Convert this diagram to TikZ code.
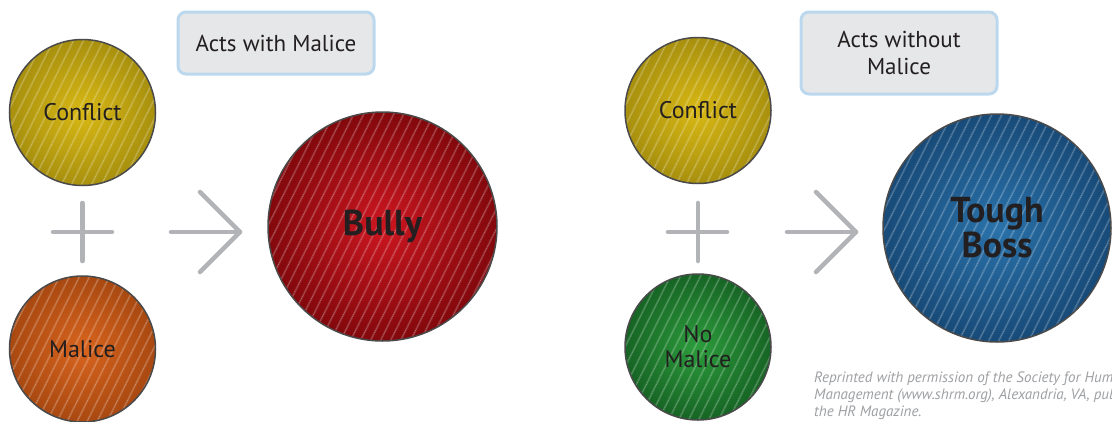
\documentclass[tikz,border=0pt]{standalone}
\usepackage{fontspec}
\setmainfont{PT Sans}
\usetikzlibrary{calc}
\definecolor{ballborder}{HTML}{4A4A4A}
\definecolor{txtdark}{HTML}{231F20}
\definecolor{yelin}{HTML}{D8B814}
\definecolor{yelout}{HTML}{A8900E}
\definecolor{orain}{HTML}{D8641E}
\definecolor{oraout}{HTML}{A84810}
\definecolor{redin}{HTML}{CC1620}
\definecolor{redout}{HTML}{82080C}
\definecolor{grnin}{HTML}{2C9C3C}
\definecolor{grnout}{HTML}{166424}
\definecolor{bluin}{HTML}{2A72AA}
\definecolor{bluout}{HTML}{174A78}
\definecolor{symgray}{HTML}{B1B3B6}
\definecolor{boxfill}{HTML}{E6E7E8}
\definecolor{boxline}{HTML}{BCD8EE}
\definecolor{notegray}{HTML}{9D9FA2}
\tikzset{
  x=1pt, y=-1pt,
  ball/.style={circle, draw=ballborder, line width=1.5pt, inner sep=0pt,
    minimum size=#1, text=txtdark, align=center,
    font=\fontsize{24}{25}\selectfont,
    path picture={
      \begin{scope}[shift={(path picture bounding box.center)}]
        \foreach \k in {-16,...,16}{
          \draw[white, opacity=0.14, line width=2pt] (\k*10pt-80pt,-160pt) -- (\k*10pt+80pt,160pt);
          \draw[white, opacity=0.35, line width=0.5pt, dash pattern=on 1pt off 1pt] (\k*10pt-80pt,-160pt) -- (\k*10pt+80pt,160pt);
        }
      \end{scope}
    }},
  bigtext/.style={font=\bfseries\fontsize{36}{35}\selectfont},
  labelbox/.style={draw=boxline, fill=boxfill, line width=3pt, rounded corners=8pt,
    inner sep=0pt, align=center, text=txtdark, font=\fontsize{23}{27}\selectfont},
  sym/.style={draw=symgray, line width=4.5pt, line cap=round, line join=round},
  note/.style={anchor=north west, align=left, text=notegray, inner sep=0pt,
    font=\itshape\fontsize{15}{17}\selectfont}
}
\begin{document}
\begin{tikzpicture}
\path[use as bounding box] (0,0) rectangle (1112,421);
\clip (0,0) rectangle (1112,421);

% left group
\node[labelbox, minimum width=196pt, minimum height=62pt] (lab1) at (276,43) {Acts with Malice};
\node[ball=146pt, shade, inner color=yelin, outer color=yelout] (conf1) at (82.5,112.5) {Conflict};
\node[ball=146pt, shade, inner color=orain, outer color=oraout] (mal1) at (82.5,349) {Malice};
\node[ball=229pt, shade, inner color=redin, outer color=redout, bigtext] (bully) at (382.5,226.5) {Bully};

\coordinate (p1l) at (53,232); \coordinate (p1r) at (112,232);
\coordinate (p1t) at (82.5,203); \coordinate (p1b) at (82.5,261);
\draw[sym] (p1l) -- (p1r);
\draw[sym] (p1t) -- (p1b);
\coordinate (a1s) at (171,232); \coordinate (a1e) at (240,232);
\coordinate (a1u) at (200,192); \coordinate (a1d) at (200,272);
\draw[sym] (a1s) -- (a1e);
\draw[sym] (a1u) -- (a1e) -- (a1d);

% right group
\node[labelbox, minimum width=196pt, minimum height=82pt] (lab2) at (899,53) {Acts without\\Malice};
\node[ball=146pt, shade, inner color=yelin, outer color=yelout] (conf2) at (698,110.5) {Conflict};
\node[ball=146pt, shade, inner color=grnin, outer color=grnout] (mal2) at (698,347) {No\\Malice};
\node[ball=228pt, shade, inner color=bluin, outer color=bluout, bigtext] (boss) at (997,228) {Tough\\Boss};

\coordinate (p2l) at (668,232); \coordinate (p2r) at (727,232);
\coordinate (p2t) at (698,203); \coordinate (p2b) at (698,261);
\draw[sym] (p2l) -- (p2r);
\draw[sym] (p2t) -- (p2b);
\coordinate (a2s) at (787,232); \coordinate (a2e) at (856,232);
\coordinate (a2u) at (816,192); \coordinate (a2d) at (816,272);
\draw[sym] (a2s) -- (a2e);
\draw[sym] (a2u) -- (a2e) -- (a2d);

\node[note] (credit) at (814,372) {Reprinted with permission of the Society for Human\\Management (www.shrm.org), Alexandria, VA, publisher\\the HR Magazine.};
\end{tikzpicture}
\end{document}
